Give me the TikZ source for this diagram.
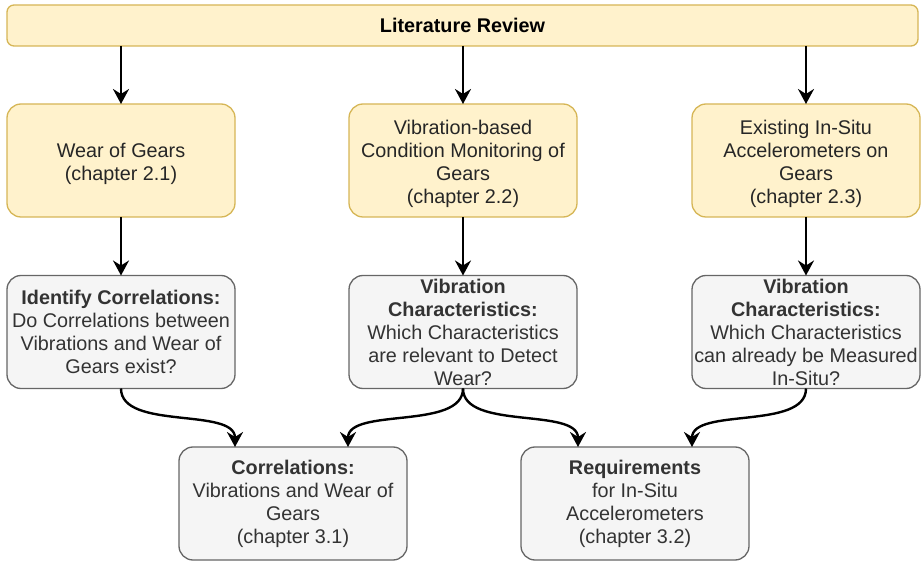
\documentclass[tikz,border=0pt]{standalone}
\usepackage{fontspec}
\setmainfont{Liberation Sans}
\usetikzlibrary{arrows.meta}
\definecolor{yfill}{HTML}{FFF2CC}
\definecolor{yline}{HTML}{D6B656}
\definecolor{gfill}{HTML}{F5F5F5}
\definecolor{gline}{HTML}{666666}
\definecolor{gtext}{HTML}{333333}
\newcommand{\ystrut}{\rule{0pt}{22pt}}
\begin{document}
\begin{tikzpicture}[x=1pt,y=-1pt,
  every node/.style={inner sep=0pt, outer sep=0pt},
  ybox/.style={draw=yline, fill=yfill, line width=1.3pt, rounded corners=14pt,
    minimum width=228pt, minimum height=113pt, align=center,
    font=\fontsize{19.8}{23}\selectfont, text=black!85},
  gbox/.style={draw=gline, fill=gfill, line width=1.3pt, rounded corners=14pt,
    minimum width=228pt, minimum height=113pt, align=center,
    font=\fontsize{19.8}{23}\selectfont, text=gtext},
  arr/.style={line width=2.4pt, -{Stealth[length=15pt,width=16pt,inset=5pt]}}
]
\useasboundingbox (0,0) rectangle (922,561);
\node[draw=yline, fill=yfill, line width=1.3pt, rounded corners=7pt,
  minimum width=911pt, minimum height=41pt, font=\fontsize{19.8}{23}\selectfont\bfseries]
  (top) at (462.5,25.5) {Literature Review};

\node[ybox] (a2) at (121,160.5) {\ystrut Wear of Gears\\(chapter 2.1)};
\node[ybox] (b2) at (463,160.5) {\ystrut Vibration-based\\Condition Monitoring of\\Gears\\(chapter 2.2)};
\node[ybox] (c2) at (806,160.5) {\ystrut Existing In-Situ\\Accelerometers on\\Gears\\(chapter 2.3)};

\node[gbox] (a3) at (121,332) {\textbf{Identify Correlations:}\\Do Correlations between\\Vibrations and Wear of\\Gears exist?};
\node[gbox] (b3) at (463,332) {\textbf{Vibration}\\\textbf{Characteristics:}\\Which Characteristics\\are relevant to Detect\\Wear?};
\node[gbox] (c3) at (806,332) {\textbf{Vibration}\\\textbf{Characteristics:}\\Which Characteristics\\can already be Measured\\In-Situ?};

\node[gbox] (a4) at (293,503.5) {\textbf{Correlations:}\\Vibrations and Wear of\\Gears\\(chapter 3.1)};
\node[gbox] (b4) at (635,503.5) {\textbf{Requirements}\\for In-Situ\\Accelerometers\\(chapter 3.2)};

\draw[arr] (top.south -| a2.north) -- (a2.north);
\draw[arr] (top.south -| b2.north) -- (b2.north);
\draw[arr] (top.south -| c2.north) -- (c2.north);
\draw[arr] (a2) -- (a3);
\draw[arr] (b2) -- (b3);
\draw[arr] (c2) -- (c3);

\coordinate (a4l) at ([xshift=-58pt]a4.north);
\coordinate (a4r) at ([xshift=55pt]a4.north);
\coordinate (b4l) at ([xshift=-57pt]b4.north);
\coordinate (b4r) at ([xshift=57pt]b4.north);
\draw[arr] (a3.south) .. controls +(0,42) and +(0,-40) .. (a4l);
\draw[arr] (b3.south) .. controls +(0,42) and +(0,-40) .. (a4r);
\draw[arr] (b3.south) .. controls +(0,42) and +(0,-40) .. (b4l);
\draw[arr] (c3.south) .. controls +(0,42) and +(0,-40) .. (b4r);
\end{tikzpicture}
\end{document}
